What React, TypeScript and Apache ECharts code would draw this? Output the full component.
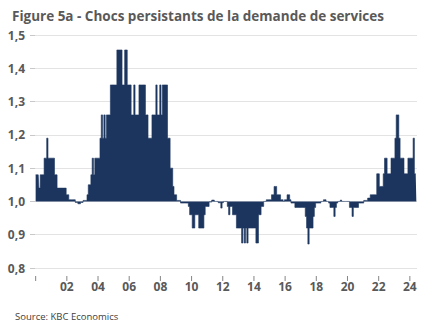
import React, { useEffect, useRef } from "react";
import * as echarts from "echarts";

// Monthly index values, Jan 2000 .. Jun 2024 (one row per year)
const y2000 = [1.08, 1.08, 1.08, 1.04, 1.08, 1.08, 1.08, 1.13, 1.13, 1.19, 1.13, 1.13];
const y2001 = [1.13, 1.13, 1.13, 1.08, 1.08, 1.04, 1.04, 1.04, 1.04, 1.04, 1.04, 1.04];
const y2002 = [1.02, 1.02, 1.005, 1.005, 1.005, 1.005, 1.005, 0.997, 0.997, 0.993, 0.993, 0.997];
const y2003 = [0.997, 1.003, 1.003, 1.003, 1.02, 1.05, 1.05, 1.08, 1.13, 1.08, 1.13, 1.13];
const y2004 = [1.13, 1.13, 1.19, 1.26, 1.19, 1.26, 1.19, 1.26, 1.26, 1.26, 1.35, 1.35];
const y2005 = [1.35, 1.35, 1.35, 1.455, 1.455, 1.455, 1.455, 1.35, 1.35, 1.455, 1.455, 1.35];
const y2006 = [1.35, 1.35, 1.26, 1.26, 1.35, 1.26, 1.26, 1.26, 1.35, 1.35, 1.35, 1.35];
const y2007 = [1.35, 1.26, 1.26, 1.19, 1.19, 1.19, 1.26, 1.26, 1.26, 1.35, 1.26, 1.26];
const y2008 = [1.35, 1.26, 1.35, 1.35, 1.35, 1.35, 1.19, 1.19, 1.1, 1.1, 1.045, 1.02];
const y2009 = [1.02, 1.003, 1.003, 1.003, 0.995, 0.995, 0.995, 0.995, 0.995, 0.995, 0.985, 0.96];
const y2010 = [0.96, 0.92, 0.92, 0.96, 0.96, 0.96, 0.92, 0.92, 0.92, 0.92, 0.96, 0.985];
const y2011 = [0.985, 0.985, 0.998, 0.998, 1.004, 1.004, 1.0, 1.0, 1.0, 0.996, 0.996, 0.98];
const y2012 = [0.996, 1.0, 1.0, 1.0, 0.985, 0.96, 0.985, 0.985, 0.96, 0.96, 0.96, 0.92];
const y2013 = [0.92, 0.92, 0.92, 0.875, 0.92, 0.875, 0.92, 0.875, 0.92, 0.92, 0.92, 0.92];
const y2014 = [0.92, 0.92, 0.875, 0.875, 0.96, 0.96, 0.985, 0.985, 1.0, 1.0, 1.005, 1.005];
const y2015 = [1.005, 1.005, 1.02, 1.02, 1.045, 1.045, 1.02, 1.02, 1.02, 1.005, 1.005, 1.0];
const y2016 = [1.005, 1.005, 1.02, 1.02, 1.005, 0.995, 0.995, 0.995, 0.982, 0.982, 0.982, 0.982];
const y2017 = [0.982, 0.982, 0.982, 0.982, 0.955, 0.92, 0.872, 0.92, 0.92, 0.92, 0.955, 0.982];
const y2018 = [0.995, 0.995, 0.995, 0.995, 1.0, 1.0, 1.005, 1.005, 1.0, 1.0, 0.995, 0.982];
const y2019 = [0.982, 0.982, 0.955, 0.982, 0.995, 1.0, 1.0, 1.004, 1.0, 1.0, 1.0, 1.0];
const y2020 = [1.0, 1.0, 0.982, 0.982, 0.955, 0.982, 0.982, 0.982, 0.982, 0.995, 0.995, 0.995];
const y2021 = [0.995, 1.003, 1.003, 1.003, 1.01, 1.01, 1.02, 1.02, 1.02, 1.02, 1.02, 1.083];
const y2022 = [1.083, 1.045, 1.045, 1.045, 1.083, 1.13, 1.13, 1.083, 1.083, 1.083, 1.13, 1.13];
const y2023 = [1.13, 1.19, 1.26, 1.26, 1.19, 1.13, 1.13, 1.13, 1.083, 1.083, 1.083, 1.13];
const y2024 = [1.13, 1.13, 1.13, 1.19, 1.083, 1.083];

const values: number[] = [
  ...y2000, ...y2001, ...y2002, ...y2003, ...y2004, ...y2005, ...y2006, ...y2007,
  ...y2008, ...y2009, ...y2010, ...y2011, ...y2012, ...y2013, ...y2014, ...y2015,
  ...y2016, ...y2017, ...y2018, ...y2019, ...y2020, ...y2021, ...y2022, ...y2023, ...y2024,
];

const START_YEAR = 2000;
const BASE = 1.0;
const Y_MIN = 0.8;
const TICK_EVERY_MONTHS = 24; // a tick every two years, starting Jan 2000 (unlabelled)

const TITLE = "Figure 5a - Chocs persistants de la demande de services";
const SOURCE = "Source: KBC Economics";

const categories = values.map((_, i) => {
  const y = START_YEAR + Math.floor(i / 12);
  const m = (i % 12) + 1;
  return `${y}-${m < 10 ? "0" + m : m}`;
});

export default function App() {
  const ref = useRef<HTMLDivElement>(null);
  useEffect(() => {
    if (!ref.current) return;
    const chart = echarts.init(ref.current, undefined, { renderer: "svg" });
    const font = "'Open Sans', 'Noto Sans', sans-serif";
    const textColor = "#595959";
    const barColor = "#1c355e";
    const showEvery = (i: number) => i % TICK_EVERY_MONTHS === 0;
    const tickData = categories
      .map((c, i) => (showEvery(i) ? [c, +(Y_MIN - BASE).toFixed(4)] : null))
      .filter((d) => d !== null);
    chart.setOption({
      animation: false,
      title: [
        {
          text: TITLE,
          left: 7,
          top: 4,
          textStyle: { fontFamily: font, fontSize: 13.5, fontWeight: "bold", color: textColor },
        },
        {
          text: SOURCE,
          left: 10,
          top: 306,
          textStyle: { fontFamily: font, fontSize: 9.5, fontWeight: "normal", color: "#404040" },
        },
      ],
      grid: { left: 35, right: 15, top: 35, bottom: 66, containLabel: false },
      xAxis: {
        type: "category",
        data: categories,
        boundaryGap: true,
        offset: 8,
        axisLine: { show: false, onZero: false },
        splitLine: { show: false },
        axisTick: { show: false },
        axisLabel: {
          show: true,
          interval: showEvery,
          margin: 4,
          fontFamily: font,
          fontSize: 12,
          fontWeight: "bold",
          color: textColor,
          formatter: (v: string) => {
            const yr = parseInt(v.slice(0, 4), 10);
            if (yr === START_YEAR) return "";
            return v.slice(2, 4);
          },
        },
      },
      yAxis: {
        type: "value",
        min: Y_MIN - BASE,
        max: 0.5,
        interval: 0.1,
        axisLine: { show: false },
        axisTick: { show: true, length: 5, lineStyle: { color: "#c8c8c8" } },
        splitLine: { show: true, lineStyle: { color: "#e3e3e3", width: 1 } },
        axisLabel: {
          margin: 10,
          fontFamily: font,
          fontSize: 12,
          fontWeight: "bold",
          color: textColor,
          formatter: (v: number) => (v + BASE).toFixed(1).replace(".", ","),
        },
      },
      series: [
        {
          type: "line",
          step: "middle",
          symbol: "none",
          data: values.map((v) => +(v - BASE).toFixed(4)),
          lineStyle: { color: barColor, width: 0.6 },
          areaStyle: { color: barColor, opacity: 1, origin: "auto" },
        },
        {
          // two-yearly x-axis tick marks below the plot
          type: "scatter",
          data: tickData,
          symbol: "rect",
          symbolSize: [1, 5],
          symbolOffset: [0, 10.5],
          clip: false,
          silent: true,
          itemStyle: { color: "#666666" },
        },
      ],
    });
    return () => chart.dispose();
  }, []);
  return (
    <div
      ref={ref}
      style={{ position: "fixed", left: 0, top: 0, width: 432, height: 334, background: "#fff" }}
    />
  );
}
